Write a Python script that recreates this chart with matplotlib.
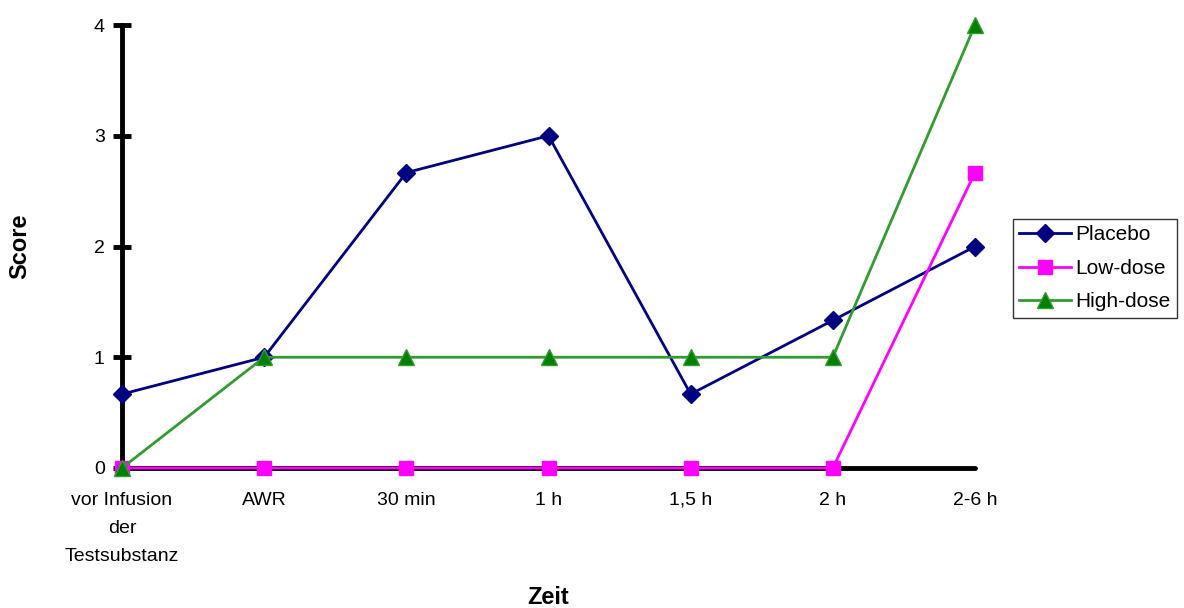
import matplotlib
matplotlib.use("Agg")
import matplotlib.pyplot as plt

plt.rcParams['font.family'] = ['Liberation Sans', 'DejaVu Sans']

# data
zeit = ["vor Infusion\nder\nTestsubstanz", "AWR", "30 min", "1 h", "1,5 h", "2 h", "2-6 h"]
placebo = [0.667, 1, 2.667, 3, 0.667, 1.333, 2]
low_dose = [0, 0, 0, 0, 0, 0, 2.667]
high_dose = [0, 1, 1, 1, 1, 1, 4]

fig = plt.figure(figsize=(11.84, 6.08), dpi=100)
ax = fig.add_axes([122/1184, 140/608, (975-122)/1184, (468-25)/608])

x = list(range(len(zeit)))
ax.plot(x, placebo, color='#000080', lw=2, marker='D', ms=9,
        label='Placebo', clip_on=False, zorder=5)
ax.plot(x, low_dose, color='#FF00FF', lw=2, marker='s', ms=10,
        label='Low-dose', clip_on=False, zorder=6)
ax.plot(x, high_dose, color='#339933', lw=2, marker='^', ms=11,
        markerfacecolor='#008000', markeredgecolor='#339933',
        label='High-dose', clip_on=False, zorder=7)

ax.set_xlim(0, 6)
ax.set_ylim(0, 4)
ax.set_yticks([0, 1, 2, 3, 4])
ax.set_xticks(x)
ax.set_xticklabels(zeit, fontsize=14, linespacing=1.85)
ax.tick_params(axis='y', labelsize=14, direction='inout', length=13, width=3.5, pad=6)
ax.tick_params(axis='x', direction='inout', length=0, width=3.5, pad=17)

for s in ['top', 'right']:
    ax.spines[s].set_visible(False)
for s in ['left', 'bottom']:
    ax.spines[s].set_linewidth(3.5)
    ax.spines[s].set_capstyle('round')

ax.set_xlabel('Zeit', fontsize=17, fontweight='bold')
ax.xaxis.label.set_verticalalignment('center')
ax.xaxis.set_label_coords(0.5, (468 - 598) / 443)
ax.set_ylabel('Score', fontsize=17, fontweight='bold')
ax.yaxis.label.set_verticalalignment('center')
ax.yaxis.set_label_coords((20 - 122) / 853, 0.5)

leg = ax.legend(loc='upper left', bbox_to_anchor=(1013/1184, 1 - 219/608),
                bbox_transform=fig.transFigure, fontsize=15, frameon=True,
                fancybox=False, edgecolor='black', handlelength=2.5,
                borderpad=0.3, labelspacing=0.7, handletextpad=0.2,
                borderaxespad=0)
leg.get_frame().set_linewidth(1)

fig.savefig('out.png', dpi=100)
